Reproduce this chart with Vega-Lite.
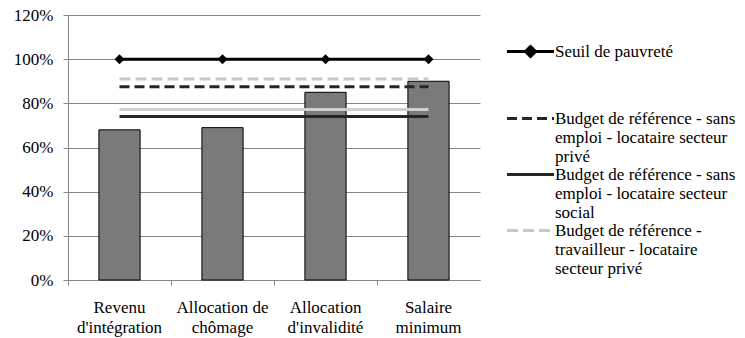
{
  "$schema": "https://vega.github.io/schema/vega-lite/v6.json",
  "width": 412,
  "height": 265,
  "autosize": "none",
  "padding": {"left": 68, "top": 15, "right": 265, "bottom": 58},
  "background": "white",
  "config": {
    "view": {"stroke": null},
    "font": "Liberation Serif",
    "axis": {
      "labelFont": "Liberation Serif",
      "labelFontSize": 17,
      "labelColor": "#000000",
      "domainColor": "#868686",
      "tickColor": "#868686",
      "gridColor": "#868686",
      "tickSize": 5,
      "title": null
    }
  },
  "datasets": {
    "bars": [
      {"categorie": "Revenu d'intégration", "valeur": 0.68},
      {"categorie": "Allocation de chômage", "valeur": 0.69},
      {"categorie": "Allocation d'invalidité", "valeur": 0.85},
      {"categorie": "Salaire minimum", "valeur": 0.90}
    ],
    "lines": [
      {"categorie": "Revenu d'intégration", "serie": "Seuil de pauvreté", "valeur": 1.0},
      {"categorie": "Allocation de chômage", "serie": "Seuil de pauvreté", "valeur": 1.0},
      {"categorie": "Allocation d'invalidité", "serie": "Seuil de pauvreté", "valeur": 1.0},
      {"categorie": "Salaire minimum", "serie": "Seuil de pauvreté", "valeur": 1.0},
      {"categorie": "Revenu d'intégration", "serie": "Budget de référence - sans emploi - locataire secteur privé", "valeur": 0.875},
      {"categorie": "Allocation de chômage", "serie": "Budget de référence - sans emploi - locataire secteur privé", "valeur": 0.875},
      {"categorie": "Allocation d'invalidité", "serie": "Budget de référence - sans emploi - locataire secteur privé", "valeur": 0.875},
      {"categorie": "Salaire minimum", "serie": "Budget de référence - sans emploi - locataire secteur privé", "valeur": 0.875},
      {"categorie": "Revenu d'intégration", "serie": "Budget de référence - sans emploi - locataire secteur social", "valeur": 0.74},
      {"categorie": "Allocation de chômage", "serie": "Budget de référence - sans emploi - locataire secteur social", "valeur": 0.74},
      {"categorie": "Allocation d'invalidité", "serie": "Budget de référence - sans emploi - locataire secteur social", "valeur": 0.74},
      {"categorie": "Salaire minimum", "serie": "Budget de référence - sans emploi - locataire secteur social", "valeur": 0.74},
      {"categorie": "Revenu d'intégration", "serie": "Budget de référence - travailleur - locataire secteur privé", "valeur": 0.91},
      {"categorie": "Allocation de chômage", "serie": "Budget de référence - travailleur - locataire secteur privé", "valeur": 0.91},
      {"categorie": "Allocation d'invalidité", "serie": "Budget de référence - travailleur - locataire secteur privé", "valeur": 0.91},
      {"categorie": "Salaire minimum", "serie": "Budget de référence - travailleur - locataire secteur privé", "valeur": 0.91},
      {"categorie": "Revenu d'intégration", "serie": "Budget de référence - travailleur - locataire secteur social", "valeur": 0.772},
      {"categorie": "Allocation de chômage", "serie": "Budget de référence - travailleur - locataire secteur social", "valeur": 0.772},
      {"categorie": "Allocation d'invalidité", "serie": "Budget de référence - travailleur - locataire secteur social", "valeur": 0.772},
      {"categorie": "Salaire minimum", "serie": "Budget de référence - travailleur - locataire secteur social", "valeur": 0.772}
    ]
  },
  "encoding": {
    "x": {
      "field": "categorie",
      "type": "nominal",
      "sort": null,
      "scale": {
        "domain": ["Revenu d'intégration", "Allocation de chômage", "Allocation d'invalidité", "Salaire minimum"],
        "paddingInner": 0,
        "paddingOuter": 0
      },
      "axis": {
        "labelAngle": 0,
        "bandPosition": 0,
        "labelPadding": 14,
        "labelBaseline": "top",
        "labelLineHeight": 20,
        "labelLimit": 0,
        "labelExpr": "[substring(datum.value, 0, lastindexof(datum.value, ' ')), substring(datum.value, lastindexof(datum.value, ' ') + 1)]",
        "grid": false
      }
    },
    "y": {
      "field": "valeur",
      "type": "quantitative",
      "scale": {"domain": [0, 1.2], "nice": false},
      "axis": {
        "format": ".0%",
        "values": [0, 0.2, 0.4, 0.6, 0.8, 1.0, 1.2],
        "labelPadding": 10,
        "grid": true
      }
    }
  },
  "layer": [
    {
      "data": {"name": "bars"},
      "mark": {"type": "bar", "width": {"band": 0.4}, "fill": "#7a7a7a", "stroke": "#000000", "strokeWidth": 1}
    },
    {
      "data": {"name": "lines"},
      "mark": {"type": "line", "strokeWidth": 3},
      "encoding": {
        "color": {
          "field": "serie",
          "type": "nominal",
          "sort": null,
          "scale": {
            "domain": [
              "Seuil de pauvreté",
              "Budget de référence - sans emploi - locataire secteur privé",
              "Budget de référence - sans emploi - locataire secteur social",
              "Budget de référence - travailleur - locataire secteur privé",
              "Budget de référence - travailleur - locataire secteur social"
            ],
            "range": ["#000000", "#262626", "#262626", "#c8c8c8", "#d0d0d0"]
          },
          "legend": {
            "orient": "none",
            "legendX": 454,
            "legendY": 28,
            "title": null,
            "symbolType": "stroke",
            "symbolSize": 100,
            "symbolStrokeWidth": 3,
            "labelFont": "Liberation Serif",
            "labelFontSize": 17,
            "labelColor": "#000000",
            "labelBaseline": "top",
            "labelOffset": 16,
            "labelLimit": 0,
            "rowPadding": 0,
            "values": [
              "Seuil de pauvreté",
              "Budget de référence - sans emploi - locataire secteur privé",
              "Budget de référence - sans emploi - locataire secteur social",
              "Budget de référence - travailleur - locataire secteur privé"
            ],
            "labelExpr": "datum.value === 'Seuil de pauvreté' ? ['Seuil de pauvreté', '', '', ''] : datum.value === 'Budget de référence - sans emploi - locataire secteur privé' ? ['Budget de référence - sans', 'emploi - locataire secteur', 'privé'] : datum.value === 'Budget de référence - sans emploi - locataire secteur social' ? ['Budget de référence - sans', 'emploi - locataire secteur', 'social'] : datum.value === 'Budget de référence - travailleur - locataire secteur privé' ? ['Budget de référence -', 'travailleur - locataire', 'secteur privé'] : datum.label",
            "encode": {
              "symbols": {
                "update": {
                  "shape": {"signal": "datum.value === 'Seuil de pauvreté' ? 'M-4.7,0L4.7,0M0,-1L1,0L0,1L-1,0Z' : 'M-4.7,0L4.7,0'"},
                  "fill": {"signal": "datum.value === 'Seuil de pauvreté' ? '#000000' : 'transparent'"}
                }
              },
              "labels": {
                "update": {
                  "lineHeight": {"signal": "datum.value === 'Seuil de pauvreté' ? 16.2 : 19"},
                  "dy": {"value": -8}
                }
              }
            }
          }
        },
        "strokeDash": {
          "field": "serie",
          "type": "nominal",
          "sort": null,
          "scale": {
            "domain": [
              "Seuil de pauvreté",
              "Budget de référence - sans emploi - locataire secteur privé",
              "Budget de référence - sans emploi - locataire secteur social",
              "Budget de référence - travailleur - locataire secteur privé",
              "Budget de référence - travailleur - locataire secteur social"
            ],
            "range": [[1, 0], [10, 5], [1, 0], [11, 5], [1, 0]]
          }
        }
      }
    },
    {
      "data": {"name": "lines"},
      "transform": [{"filter": "datum.serie === 'Seuil de pauvreté'"}],
      "mark": {"type": "point", "shape": "diamond", "filled": true, "size": 100, "color": "#000000", "opacity": 1}
    }
  ]
}
